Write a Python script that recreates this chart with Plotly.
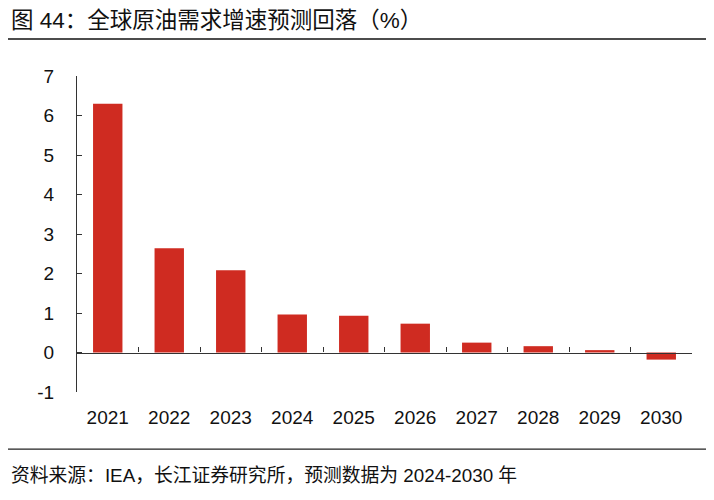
import plotly.graph_objects as go

years = ["2021", "2022", "2023", "2024", "2025", "2026", "2027", "2028", "2029", "2030"]
growth = [6.3, 2.64, 2.08, 0.96, 0.93, 0.73, 0.25, 0.16, 0.06, -0.18]
yticks = [-1, 0, 1, 2, 3, 4, 5, 6, 7]
ytick_labels = ["-1", "0", "1", "2", "3", "4", "5", "6", "7"]

title_text = "图 44：全球原油需求增速预测回落（%）"
source_text = "资料来源：IEA，长江证券研究所，预测数据为 2024-2030 年"

FONT = "Arial, Liberation Sans, Noto Sans CJK SC, sans-serif"
BAR_COLOR = "#CF2B21"

# the page body adds an 8px offset; work in reference-pixel coordinates
OFF = 8
W, H = 714 - OFF, 500 - OFF
plot_left, plot_right, plot_top, plot_bottom = 77, 692, 76, 392.3
L = plot_left - OFF
T = plot_top - OFF
R = 714 - plot_right
B = 500 - plot_bottom
pw = W - L - R
ph = H - T - B

y_min, y_max = -1, 7

fig = go.Figure()
fig.add_trace(go.Bar(
    x=years, y=growth, marker=dict(color=BAR_COLOR, line=dict(width=0)),
    width=0.478, hoverinfo="x+y",
))
# invisible trace so the zero-line axis with boundary ticks is drawn
fig.add_trace(go.Scatter(
    x=years, y=[0] * len(years), xaxis="x2", mode="markers",
    marker=dict(opacity=0), hoverinfo="skip", showlegend=False,
))

zero_pos = (0 - y_min) / (y_max - y_min)

fig.update_layout(
    width=W, height=H,
    margin=dict(l=L, r=R, t=T, b=B, pad=0),
    paper_bgcolor="white", plot_bgcolor="white",
    showlegend=False,
    font=dict(family=FONT, size=19, color="#111111"),
    xaxis=dict(
        type="category", categoryarray=years, range=[-0.5, 9.5],
        showline=False, ticks="", showgrid=False, zeroline=False,
        tickfont=dict(size=19, color="#111111"),
        ticklabelstandoff=12,
    ),
    xaxis2=dict(
        type="category", categoryarray=years, range=[-0.5, 9.5],
        overlaying="x", anchor="free", position=zero_pos, side="bottom",
        showline=True, linecolor="#333333", linewidth=1.3,
        ticks="inside", tickson="boundaries", ticklen=5, tickwidth=1.3, tickcolor="#333333",
        showticklabels=False, showgrid=False, zeroline=False,
    ),
    yaxis=dict(
        range=[y_min, y_max], tickvals=yticks, ticktext=ytick_labels,
        showline=True, linecolor="#333333", linewidth=1.3,
        ticks="inside", ticklen=5, tickwidth=1.3, tickcolor="#333333",
        showgrid=False, zeroline=False,
        tickfont=dict(size=19, color="#111111"),
        ticklabelstandoff=18,
    ),
)

def px_to_paper_x(px):
    return (px - OFF - L) / pw

def px_to_paper_y(py):
    return (H - B - (py - OFF)) / ph

fig.add_shape(type="line", xref="paper", yref="paper",
              x0=px_to_paper_x(0), x1=px_to_paper_x(708),
              y0=px_to_paper_y(39), y1=px_to_paper_y(39),
              line=dict(color="#111111", width=1.6))
fig.add_shape(type="line", xref="paper", yref="paper",
              x0=px_to_paper_x(0), x1=px_to_paper_x(708),
              y0=px_to_paper_y(449.5), y1=px_to_paper_y(449.5),
              line=dict(color="#222222", width=1.4))

fig.add_annotation(text=title_text, xref="paper", yref="paper",
                   x=px_to_paper_x(9), y=px_to_paper_y(20),
                   xanchor="left", yanchor="middle", showarrow=False,
                   font=dict(size=22.5, color="#111111", family=FONT))
fig.add_annotation(text=source_text, xref="paper", yref="paper",
                   x=px_to_paper_x(9), y=px_to_paper_y(476),
                   xanchor="left", yanchor="middle", showarrow=False,
                   font=dict(size=18.8, color="#111111", family=FONT))

fig.write_html("out.html")
